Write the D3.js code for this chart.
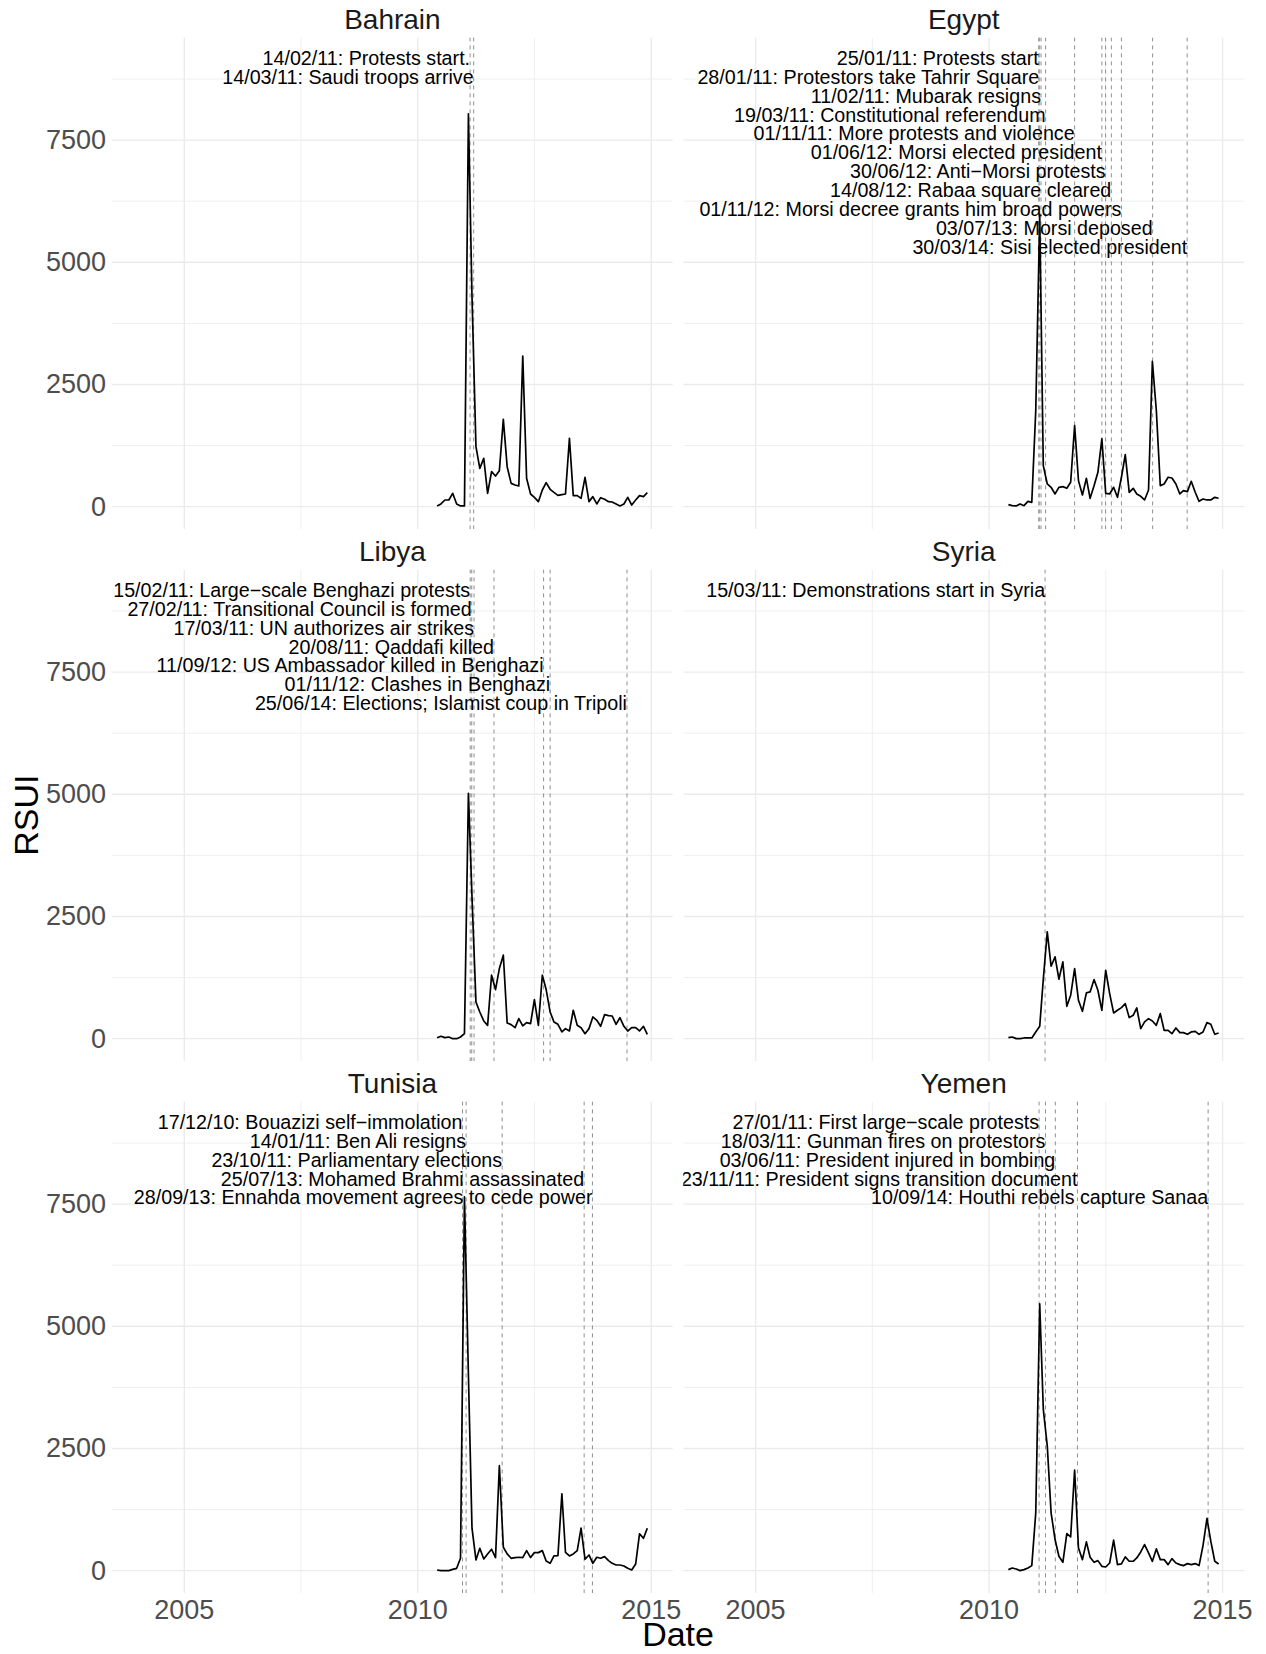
<!DOCTYPE html>
<html>
<head>
<meta charset="utf-8">
<script src="https://cdn.jsdelivr.net/npm/d3@7"></script>
<style>
  body { margin: 0; background: #ffffff; }
  svg { display: block; }
  text { font-family: "Liberation Sans", Arial, Helvetica, sans-serif; }
</style>
</head>
<body>
<svg id="chart" width="1266" height="1654"></svg>
<script>
// ---- Data -------------------------------------------------------------
// Facet order (two columns, three rows)
const countries = ["Bahrain", "Egypt", "Libya", "Syria", "Tunisia", "Yemen"];

// Monthly RSUI series, June 2010 .. December 2014 (55 months)
const firstMonth = "2010-06-01";
const lastMonth = "2014-12-01";

const bahrainRSUI = [14, 55, 136, 136, 273, 55, 14, 14, 8040, 4300, 1228, 784, 989, 273, 716, 627, 737, 1787, 818, 477,
  443, 423, 3080, 580, 259, 191, 102, 341, 491, 355, 293, 232, 246, 259, 1398, 225, 225, 170, 600, 102,
  205, 55, 184, 150, 102, 95, 55, 14, 55, 191, 34, 136, 225, 205, 286];

const egyptRSUI = [41, 20, 14, 55, 20, 109, 89, 1967, 5950, 840, 464, 396, 260, 396, 410, 376, 499, 1660, 533, 239,
  580, 171, 430, 703, 1387, 273, 260, 396, 191, 601, 1065, 294, 376, 260, 212, 137, 342, 2971, 1967, 430,
  464, 601, 587, 464, 260, 328, 307, 519, 294, 109, 157, 137, 137, 191, 171];

const libyaRSUI = [20, 48, 20, 34, 0, 0, 34, 102, 5020, 2900, 751, 546, 362, 273, 1298, 1004, 1434, 1708, 321, 287,
  225, 410, 260, 328, 307, 799, 273, 1298, 1004, 546, 342, 294, 137, 205, 157, 581, 273, 225, 102, 205,
  444, 376, 253, 492, 471, 464, 294, 430, 253, 157, 225, 225, 157, 253, 89];

const syriaRSUI = [20, 34, 0, 0, 14, 14, 14, 137, 253, 1216, 2186, 1482, 1673, 1216, 1571, 662, 888, 1434, 785, 560,
  936, 956, 1209, 990, 580, 1400, 922, 526, 580, 635, 717, 430, 478, 628, 205, 342, 410, 362, 273, 512,
  171, 171, 102, 219, 123, 123, 89, 137, 150, 89, 137, 328, 294, 89, 116];

const tunisiaRSUI = [14, 0, 0, 0, 27, 48, 253, 7650, 4000, 869, 219, 458, 239, 342, 438, 267, 2148, 479, 342, 253,
  267, 274, 267, 410, 267, 369, 369, 410, 198, 150, 301, 308, 1573, 376, 301, 342, 410, 869, 233, 321,
  150, 274, 253, 287, 205, 150, 116, 116, 96, 48, 14, 137, 752, 663, 869];

const yemenRSUI = [21, 55, 34, 0, 21, 55, 103, 1184, 5462, 3306, 2553, 1184, 637, 294, 171, 760, 691, 2060, 465, 226,
  589, 274, 171, 205, 89, 75, 157, 623, 123, 137, 281, 192, 192, 260, 383, 534, 363, 192, 445, 226,
  226, 123, 246, 157, 123, 103, 144, 123, 144, 103, 513, 1068, 602, 192, 137];

// Key events per country: [date, label]
const bahrainEvents = [
  ["2011-02-14", "14/02/11: Protests start."],
  ["2011-03-14", "14/03/11: Saudi troops arrive"]
];
const egyptEvents = [
  ["2011-01-25", "25/01/11: Protests start"],
  ["2011-01-28", "28/01/11: Protestors take Tahrir Square"],
  ["2011-02-11", "11/02/11: Mubarak resigns"],
  ["2011-03-19", "19/03/11: Constitutional referendum"],
  ["2011-11-01", "01/11/11: More protests and violence"],
  ["2012-06-01", "01/06/12: Morsi elected president"],
  ["2012-06-30", "30/06/12: Anti\u2212Morsi protests"],
  ["2012-08-14", "14/08/12: Rabaa square cleared"],
  ["2012-11-01", "01/11/12: Morsi decree grants him broad powers"],
  ["2013-07-03", "03/07/13: Morsi deposed"],
  ["2014-03-30", "30/03/14: Sisi elected president"]
];
const libyaEvents = [
  ["2011-02-15", "15/02/11: Large\u2212scale Benghazi protests"],
  ["2011-02-27", "27/02/11: Transitional Council is formed"],
  ["2011-03-17", "17/03/11: UN authorizes air strikes"],
  ["2011-08-20", "20/08/11: Qaddafi killed"],
  ["2012-09-11", "11/09/12: US Ambassador killed in Benghazi"],
  ["2012-11-01", "01/11/12: Clashes in Benghazi"],
  ["2014-06-25", "25/06/14: Elections; Islamist coup in Tripoli"]
];
const syriaEvents = [
  ["2011-03-15", "15/03/11: Demonstrations start in Syria"]
];
const tunisiaEvents = [
  ["2010-12-17", "17/12/10: Bouazizi self\u2212immolation"],
  ["2011-01-14", "14/01/11: Ben Ali resigns"],
  ["2011-10-23", "23/10/11: Parliamentary elections"],
  ["2013-07-25", "25/07/13: Mohamed Brahmi assassinated"],
  ["2013-09-28", "28/09/13: Ennahda movement agrees to cede power"]
];
const yemenEvents = [
  ["2011-01-27", "27/01/11: First large\u2212scale protests"],
  ["2011-03-18", "18/03/11: Gunman fires on protestors"],
  ["2011-06-03", "03/06/11: President injured in bombing"],
  ["2011-11-23", "23/11/11: President signs transition document"],
  ["2014-09-10", "10/09/14: Houthi rebels capture Sanaa"]
];

// Vertical position (RSUI units) of the first event label and the step between labels
const labelTop = 9145;
const labelStep = 387;

// Axis breaks
const xTickYears = [2005, 2010, 2015];
const xMinorYears = [2007.5, 2012.5];
const yTicks = [0, 2500, 5000, 7500];
const yMinor = [1250, 3750, 6250, 8750];

// Date range spanned by the x scale before expansion
const xRangeStart = "2004-01-01";
const xRangeEnd = "2014-12-01";

// ---- Assemble ---------------------------------------------------------
const seriesByCountry = {
  Bahrain: bahrainRSUI, Egypt: egyptRSUI, Libya: libyaRSUI,
  Syria: syriaRSUI, Tunisia: tunisiaRSUI, Yemen: yemenRSUI
};
const eventsByCountry = {
  Bahrain: bahrainEvents, Egypt: egyptEvents, Libya: libyaEvents,
  Syria: syriaEvents, Tunisia: tunisiaEvents, Yemen: yemenEvents
};
const months = d3.utcMonth.range(new Date(firstMonth), d3.utcMonth.offset(new Date(lastMonth), 1));

// ---- Layout -----------------------------------------------------------
const svg = d3.select("#chart");
svg.append("rect").attr("width", 1266).attr("height", 1654).attr("fill", "#ffffff");

const colX = [112, 683.3];
const panelW = 560.8;
const rowTop = [37.4, 569.4, 1101.4];
const panelH = 491.6;

// Scales with 5% expansion on both axes
const t0 = new Date(xRangeStart).getTime();
const t1 = new Date(xRangeEnd).getTime();
const tPad = (t1 - t0) * 0.05;
const xDomain = [new Date(t0 - tPad), new Date(t1 + tPad)];
const yPad = labelTop * 0.05;
const yDomain = [-yPad, labelTop + yPad];

const yearDate = yr => {
  const y = Math.floor(yr);
  const start = Date.UTC(y, 0, 1), end = Date.UTC(y + 1, 0, 1);
  return new Date(start + (yr - y) * (end - start));
};

const tickFont = 27, stripFont = 28, titleFont = 34, labelFont = 19.7;

countries.forEach((country, i) => {
  const col = i % 2, row = Math.floor(i / 2);
  const px = colX[col], py = rowTop[row];
  const x = d3.scaleUtc().domain(xDomain).range([px, px + panelW]);
  const y = d3.scaleLinear().domain(yDomain).range([py + panelH, py]);

  const clipId = "clip-" + country;
  svg.append("clipPath").attr("id", clipId)
    .append("rect").attr("x", px).attr("y", py).attr("width", panelW).attr("height", panelH);

  const g = svg.append("g").attr("clip-path", `url(#${clipId})`);

  // minor grid
  g.selectAll(".hminor").data(yMinor).join("line")
    .attr("x1", px).attr("x2", px + panelW)
    .attr("y1", d => y(d)).attr("y2", d => y(d))
    .attr("stroke", "#ebebeb").attr("stroke-width", 0.8);
  g.selectAll(".vminor").data(xMinorYears).join("line")
    .attr("y1", py).attr("y2", py + panelH)
    .attr("x1", d => x(yearDate(d))).attr("x2", d => x(yearDate(d)))
    .attr("stroke", "#ebebeb").attr("stroke-width", 0.8);
  // major grid
  g.selectAll(".hmajor").data(yTicks).join("line")
    .attr("x1", px).attr("x2", px + panelW)
    .attr("y1", d => y(d)).attr("y2", d => y(d))
    .attr("stroke", "#ebebeb").attr("stroke-width", 1.4);
  g.selectAll(".vmajor").data(xTickYears).join("line")
    .attr("y1", py).attr("y2", py + panelH)
    .attr("x1", d => x(yearDate(d))).attr("x2", d => x(yearDate(d)))
    .attr("stroke", "#ebebeb").attr("stroke-width", 1.4);

  const events = eventsByCountry[country];

  // event markers
  g.selectAll(".ev").data(events).join("line")
    .attr("x1", d => x(new Date(d[0]))).attr("x2", d => x(new Date(d[0])))
    .attr("y1", py).attr("y2", py + panelH)
    .attr("stroke", "#8f8f8f").attr("stroke-width", 1)
    .attr("stroke-dasharray", "4,4");

  // RSUI series
  const values = seriesByCountry[country];
  const line = d3.line().x((d, k) => x(months[k])).y(d => y(d));
  g.append("path").datum(values)
    .attr("d", line)
    .attr("fill", "none").attr("stroke", "#000000")
    .attr("stroke-width", 1.7).attr("stroke-linejoin", "round");

  // event labels, right-aligned at each event date
  g.selectAll(".lbl").data(events).join("text")
    .attr("x", d => x(new Date(d[0])))
    .attr("y", (d, k) => y(labelTop - k * labelStep))
    .attr("dy", "-0.1em")
    .attr("text-anchor", "end")
    .attr("dominant-baseline", "central")
    .attr("font-size", labelFont)
    .attr("fill", "#000000")
    .text(d => d[1]);

  // strip title
  svg.append("text")
    .attr("x", px + panelW / 2).attr("y", py - 8)
    .attr("text-anchor", "middle")
    .attr("font-size", stripFont).attr("fill", "#1a1a1a")
    .text(country);

  // y tick labels on the left column
  if (col === 0) {
    svg.append("g").selectAll("text").data(yTicks).join("text")
      .attr("x", px - 6).attr("y", d => y(d))
      .attr("text-anchor", "end").attr("dominant-baseline", "central")
      .attr("font-size", tickFont).attr("fill", "#4d4d4d")
      .text(d => d3.format("d")(d));
  }
  // x tick labels on the bottom row
  if (row === 2) {
    svg.append("g").selectAll("text").data(xTickYears).join("text")
      .attr("x", d => x(yearDate(d))).attr("y", 1619)
      .attr("text-anchor", "middle")
      .attr("font-size", tickFont).attr("fill", "#4d4d4d")
      .text(d => d);
  }
});

// axis titles
svg.append("text")
  .attr("transform", `translate(38,${(rowTop[0] + rowTop[2] + panelH) / 2}) rotate(-90)`)
  .attr("text-anchor", "middle")
  .attr("font-size", titleFont).attr("fill", "#000000")
  .text("RSUI");
svg.append("text")
  .attr("x", (colX[0] + colX[1] + panelW) / 2).attr("y", 1646)
  .attr("text-anchor", "middle")
  .attr("font-size", titleFont).attr("fill", "#000000")
  .text("Date");
</script>
</body>
</html>
